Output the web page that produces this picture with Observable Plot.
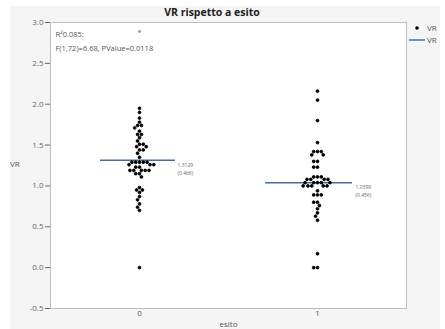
<!DOCTYPE html>
<html>
<head>
<meta charset="utf-8">
<script src="https://cdn.jsdelivr.net/npm/d3@7"></script>
<script src="https://cdn.jsdelivr.net/npm/@observablehq/plot@0.6"></script>
<style>
  html, body { margin: 0; padding: 0; background: #ffffff; }
  #wrap { position: relative; width: 445px; height: 329px; overflow: hidden; font-family: "Open Sans", "Noto Sans", sans-serif; }
  #panel { position: absolute; left: 10px; top: 6px; width: 430px; height: 323px; background: #f5f5f5; }
  #chart { position: absolute; left: 0; top: 0; }
  #title { position: absolute; left: 112px; width: 200px; top: 5px; text-align: center; font-weight: bold; font-size: 10.5px; color: #222; }
  #ylab { position: absolute; left: 10px; top: 158px; font-size: 8px; color: #555; }
  #legend { position: absolute; left: 408px; top: 22px; font-size: 8px; color: #555; line-height: 12px; }
  #legend .row { display: flex; align-items: center; height: 12px; }
  #legend svg { margin-right: 2px; }
</style>
</head>
<body>
<div id="wrap">
  <div id="panel"></div>
  <div id="chart"></div>
  <div id="title"></div>
  <div id="ylab"></div>
  <div id="legend"></div>
</div>
<script>
// ---- data ----
const groupLabels = ["0", "1"];
const vr0 = [1.95, 1.90, 1.83, 1.78, 1.74, 1.74, 1.71, 1.67, 1.63, 1.63, 1.59, 1.55, 1.51, 1.51,
  1.48, 1.48, 1.44, 1.44, 1.40, 1.35,
  1.29, 1.29, 1.29, 1.29, 1.29, 1.26, 1.26, 1.26, 1.23, 1.23,
  1.19, 1.19, 1.19, 1.19, 1.19, 1.15, 1.15, 1.11,
  0.98, 0.95, 0.95, 0.92, 0.87, 0.83, 0.78, 0.74, 0.70, 0.0];
const vr1 = [2.16, 2.05, 1.80, 1.53, 1.42, 1.42, 1.42, 1.38, 1.38, 1.30, 1.30, 1.23, 1.23,
  1.11, 1.11, 1.11, 1.08, 1.08, 1.08, 1.08, 1.04, 1.04, 1.04, 1.04, 1.04,
  1.00, 1.00, 1.00, 1.00, 1.00, 0.94, 0.89, 0.89, 0.89, 0.80, 0.80, 0.76, 0.72, 0.67, 0.63, 0.58,
  0.17, 0.0, 0.0];
const markerGroup = ["0"];
const markerValue = [2.89];
const means = [1.3129, 1.0399];
const sds = [0.466, 0.456];
const yTicks = [-0.5, 0.0, 0.5, 1.0, 1.5, 2.0, 2.5, 3.0];
const titleText = "VR rispetto a esito";
const xLabel = "esito";
const yLabel = "VR";
const statsText = "R\u00B20.085:\nF(1,72)=6.68, PValue=0.0118";
const legendItems = ["VR", "VR"];

// ---- tables for the library ----
const rows = [
  ...vr0.map(v => ({esito: groupLabels[0], VR: v})),
  ...vr1.map(v => ({esito: groupLabels[1], VR: v}))
];
const markers = markerGroup.map((g, i) => ({esito: g, VR: markerValue[i]}));
const meanRows = groupLabels.map((g, i) => ({esito: g, mean: means[i], sd: sds[i]}));

const meanColor = "#4a6d9a";

const chart = Plot.plot({
  width: 445,
  height: 329,
  marginTop: 22,
  marginBottom: 21,
  marginLeft: 50,
  marginRight: 39,
  style: {background: "transparent", fontFamily: "'Open Sans', 'Noto Sans', sans-serif", fontSize: "8px"},
  fx: {domain: groupLabels, paddingInner: 0, paddingOuter: 0, label: xLabel},
  y: {domain: [-0.5, 3.0], label: null},
  marks: [
    Plot.frame({facet: "super", fill: "white", stroke: "#bfbfbf"}),
    Plot.axisY({ticks: yTicks, tickFormat: d => d.toFixed(1), tickSize: 5, tickPadding: 2, label: null, color: "#666", fontSize: 8}),
    Plot.axisFx({anchor: "bottom", tickSize: 0, tickPadding: 2, label: xLabel, labelAnchor: "center", labelArrow: "none", labelOffset: 18, color: "#555", fontSize: 8}),
    Plot.text([statsText], {facet: "super", frameAnchor: "top-left", dx: 5, dy: 5, text: d => d, lineAnchor: "top", lineHeight: 1.85, fontSize: 7.5, fill: "#555"}),
    Plot.dot(markers, {fx: "esito", y: "VR", r: 1.4, fill: "#999", stroke: "none"}),
    Plot.ruleY(meanRows.filter(d => d.esito === groupLabels[0]), {fx: "esito", y: "mean", insetLeft: 50, insetRight: 53, stroke: meanColor, strokeWidth: 1.5}),
    Plot.ruleY(meanRows.filter(d => d.esito === groupLabels[1]), {fx: "esito", y: "mean", insetLeft: 37, insetRight: 54, stroke: meanColor, strokeWidth: 1.5}),
    Plot.dot(rows, Plot.dodgeX("middle", {fx: "esito", y: "VR", r: 1.4, padding: 0, fill: "black", stroke: "black", strokeWidth: 0.9})),
    Plot.text(meanRows, {fx: "esito", y: "mean", frameAnchor: "right", dx: -51, dy: 1, textAnchor: "start", lineAnchor: "top", lineHeight: 1.6,
      text: d => `${d.mean.toFixed(4)}\n(${d.sd.toFixed(3)})`, fontSize: 5, fill: "#666"})
  ]
});
document.getElementById("chart").appendChild(chart);
document.getElementById("title").textContent = titleText;
document.getElementById("ylab").textContent = yLabel;

const legend = document.getElementById("legend");
legendItems.forEach((name, i) => {
  const row = document.createElement("div");
  row.className = "row";
  const sym = i === 0
    ? `<svg width="17" height="12"><circle cx="9" cy="6" r="1.8" fill="black"/></svg>`
    : `<svg width="17" height="12"><line x1="1" x2="17" y1="6" y2="6" stroke="${meanColor}" stroke-width="1.5"/></svg>`;
  row.innerHTML = sym + `<span>${name}</span>`;
  legend.appendChild(row);
});
</script>
</body>
</html>
